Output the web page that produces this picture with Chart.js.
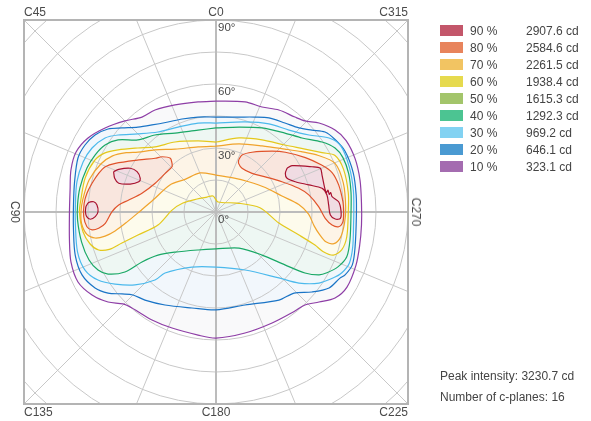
<!DOCTYPE html>
<html>
<head>
<meta charset="utf-8">
<script src="https://cdn.jsdelivr.net/npm/chart.js@4.4.1/dist/chart.umd.min.js"></script>
<style>
  body { margin: 0; background: #fff; font-family: "Liberation Sans", Arial, sans-serif; color: #444; }
  #wrap { position: relative; width: 591px; height: 421px; overflow: hidden; }
  #wrap canvas { position: absolute; left: 0; top: 0; }
  .lbl { position: absolute; font-size: 12px; line-height: 12px; color: #4a4a4a; white-space: nowrap; }
  .deg { position: absolute; font-size: 11.5px; line-height: 12px; color: #4a4a4a; left: 218px; white-space: nowrap; }
  #legend { position: absolute; left: 440px; top: 22px; width: 150px; font-size: 12px; color: #444; }
  #legend .row { position: relative; height: 17px; }
  #legend .sw { position: absolute; left: 0; top: 3px; width: 23px; height: 11px; }
  #legend .pc { position: absolute; left: 30px; top: 2px; line-height: 14px; white-space: nowrap; }
  #legend .cd { position: absolute; left: 86px; top: 2px; line-height: 14px; white-space: nowrap; }
  .info { position: absolute; left: 440px; font-size: 12px; color: #444; line-height: 14px; white-space: nowrap; }
</style>
</head>
<body>
<div id="wrap">
  <canvas id="isoChart" width="591" height="421"></canvas>
  <div class="lbl" style="left:216px;top:6px;transform:translateX(-50%)">C0</div>
  <div class="lbl" style="left:24px;top:6px">C45</div>
  <div class="lbl" style="right:183px;top:6px">C315</div>
  <div class="lbl" style="left:24px;top:406px">C135</div>
  <div class="lbl" style="left:216px;top:406px;transform:translateX(-50%)">C180</div>
  <div class="lbl" style="right:183px;top:406px">C225</div>
  <div class="lbl" style="left:15px;top:212px;transform:translate(-50%,-50%) rotate(90deg)">C90</div>
  <div class="lbl" style="left:416px;top:212px;transform:translate(-50%,-50%) rotate(90deg)">C270</div>
  <div class="deg" style="top:21px">90°</div>
  <div class="deg" style="top:85px">60°</div>
  <div class="deg" style="top:149px">30°</div>
  <div class="deg" style="top:213px">0°</div>
  <div id="legend"></div>
  <div class="info" style="top:369px">Peak intensity: 3230.7 cd</div>
  <div class="info" style="top:390px">Number of c-planes: 16</div>
</div>
<script>
// isocandela levels
var levelPercents = [90, 80, 70, 60, 50, 40, 30, 20, 10];
var levelCandela = [2907.6, 2584.6, 2261.5, 1938.4, 1615.3, 1292.3, 969.2, 646.1, 323.1];
var legendColors = ['#c3566a', '#e8845c', '#f2c462', '#e6da4e', '#a3c56b', '#4cc492', '#82d2f2', '#4a9ad2', '#a46cb0'];

// grid: gamma rings (deg) and c-plane directions (deg)
var gammaRings = [15, 30, 45, 60, 75, 90, 105, 120];
var cPlaneAngles = [0, 22.5, 45, 67.5, 90, 112.5, 135, 157.5, 180, 202.5, 225, 247.5, 270, 292.5, 315, 337.5];

// contour points, [x, y] in degrees from nadir
var contour10 = [[0,52],[13.6,51.6],[21.6,49.2],[29.5,47.8],[37,44.5],[41.7,42.7],[48.3,41.7],[55.8,38.4],[61,33.5],[65.2,25],[67.5,15],[68.2,4],[68.2,-6.1],[67.3,-16],[65.6,-25],[61.4,-35.2],[55.8,-40.3],[48.3,-42.2],[41.7,-43.6],[37,-46.4],[26.3,-52],[13.6,-56.7],[0,-59.1],[-8.4,-57.7],[-20.6,-54.4],[-30,-50.6],[-39.4,-45],[-43.6,-43.1],[-50.6,-42.2],[-58.1,-38.9],[-64.7,-32.8],[-68,-23.4],[-68.7,-13.1],[-68.7,-0.5],[-68.4,10.3],[-68,19.7],[-65.6,28.1],[-60,34.7],[-52,39.4],[-42.7,42.7],[-34.7,44.5],[-28.6,47.8],[-19.2,50.2],[-8.4,51.6],[0,52]];
var contour20 = [[0,44.5],[10.8,44.5],[18.3,44.5],[24.8,44.1],[32.3,41.7],[38.9,39.4],[45,38.4],[51.1,37.5],[55.8,34],[60.5,28.5],[64.3,18.5],[65.7,8],[65.8,-2],[65.2,-16.3],[63.9,-24.8],[60.5,-29.5],[58.1,-31],[53,-35.6],[45,-37.5],[36.6,-38],[29.5,-41.3],[13.6,-43.6],[0,-45.9],[-11.3,-45],[-23.9,-43.6],[-33.3,-41.3],[-38.9,-38.9],[-44.1,-38.4],[-50.6,-38],[-56.7,-35.6],[-62.8,-29.5],[-66,-20.2],[-66.8,-8.4],[-66.8,3.3],[-66.3,14.1],[-64.7,25.3],[-61.4,31.4],[-56.7,36.1],[-50.6,38.9],[-44.1,39.4],[-36.6,39.8],[-30,40.8],[-22.5,42.2],[-15.9,43.6],[-8.4,44.5],[0,44.5]];
var contour30 = [[0,41.7],[13.6,42.2],[24.8,41.3],[34.2,38.4],[43.6,36.1],[53,34.7],[58.5,31],[62.5,21],[64.4,10],[64.6,0],[64.5,-5],[64.1,-16.3],[62.5,-24],[59,-28.5],[55.8,-30.5],[48.3,-33.3],[38.9,-33.3],[29.5,-30.9],[13.6,-27.2],[0,-25.8],[-11.3,-25.8],[-23.9,-28.6],[-28.6,-31.9],[-38,-34.2],[-47.3,-33.8],[-55.3,-31.9],[-61.4,-27.2],[-64.9,-18.8],[-65.9,-6.1],[-65.9,3.3],[-65.2,14.1],[-62.3,23.4],[-58.1,30],[-52,34.7],[-45.9,36.1],[-36.6,36.6],[-27.2,37.5],[-17.8,39.8],[-8.4,41.7],[0,41.7]];
var contour40 = [[0,39.4],[10.8,39.8],[21.6,39.4],[32.3,37],[40.3,34.7],[49.7,32.8],[55.8,30],[59.5,25.5],[62.2,18],[63.3,9],[63.3,0],[62.8,-13],[61.3,-21],[57.3,-25.6],[52,-28.5],[48.3,-29.5],[41.7,-28.6],[32.3,-24.8],[21.6,-20.2],[10.8,-16.9],[0,-17.3],[-8.4,-17.8],[-19.2,-18.8],[-27.2,-20.2],[-34.7,-23.4],[-42.7,-28.1],[-50.6,-29.1],[-55.3,-27.2],[-59.5,-22.5],[-63,-14.1],[-64.9,-3.8],[-64.9,3.3],[-63.8,11.3],[-60.5,20.6],[-56.7,26.7],[-52,31.4],[-45.9,33.8],[-36.6,33.8],[-28.6,36.1],[-19.2,37],[-8.4,38.4],[0,39.4]];
var contour60 = [[0,32.8],[10.8,34.7],[21.6,33.8],[32.3,31.4],[41.7,29.5],[49.7,27.8],[55.8,26.5],[59.8,20],[62,9],[62,0],[61.3,-11.6],[58.9,-17.8],[55,-20.2],[50.3,-18.6],[46.4,-15.5],[38.9,-10.8],[29.5,-5.2],[20.6,2],[9.8,4.2],[1,4.7],[-1.4,7.5],[-4.2,7],[-8.9,6.1],[-15.5,4.2],[-20.6,0.9],[-27.2,-6.1],[-36.6,-10.8],[-44.1,-14.5],[-50,-17.5],[-55,-17.8],[-59,-15],[-62.3,-9.4],[-64,0],[-63.3,6],[-61.3,16],[-56.7,24.4],[-52,27.7],[-45.9,29.1],[-36.6,30],[-28.6,30.5],[-19.2,32.8],[-8.4,33.3],[0,32.8]];
var contour70 = [[0,30.9],[10.8,31.9],[21.6,31],[32.3,29.5],[40,28.3],[48,26.5],[55.8,22.8],[59.7,13.5],[60.8,2],[60.2,-5.5],[58.3,-12],[55.3,-14.8],[51.5,-14],[48.5,-10.5],[46,-6.5],[43.4,-1],[38.8,3.5],[30.9,7.5],[23.1,11.5],[15.3,14.2],[8,16],[0,17.3],[-7.5,18.3],[-14.5,15.3],[-21.6,12.7],[-29.5,5.6],[-35.5,0.5],[-41.5,-4.5],[-47.3,-8.9],[-52,-11.3],[-56.7,-12.2],[-60.5,-10.5],[-63,-5.5],[-63.3,0],[-62.5,5.6],[-59.5,15],[-54,22.5],[-48.5,26.3],[-42,27.8],[-36.6,28.1],[-28.6,29.1],[-19.2,29.5],[-8.4,30.5],[0,30.9]];
var contour80a = [[-20.6,22.8],[-21.4,25.2],[-25.3,25.9],[-28.5,25.2],[-36.2,24.4],[-47.2,22.8],[-51.9,21.2],[-55,18.1],[-58.1,13.5],[-60.5,8.8],[-61.8,4.1],[-62,-2.2],[-60.5,-6.9],[-58.1,-8.4],[-55,-7.6],[-51.9,-5.3],[-48.8,0.1],[-45.6,3.3],[-40.9,5.6],[-34.7,8.8],[-28.5,13.5],[-23.8,18.1],[-20.6,21.2],[-20.6,22.8]];
var contour80b = [[10.6,24.4],[12.2,26.7],[16.9,28],[26.3,28.5],[32.5,28],[41.9,25.5],[49.5,22],[54.4,18.5],[57.5,12.7],[59.5,4.8],[59.8,0],[59.5,-4.5],[57.5,-6.9],[54.4,-6.1],[51.2,-3],[48.1,2.5],[43.5,8],[38.8,11.1],[30.9,14.2],[23.1,16.5],[16.9,18.1],[12.2,20.5],[10.6,22.8],[10.6,24.4]];
var contour90a = [[-48,18.9],[-45.6,20],[-40.2,20.5],[-37,18.9],[-35.5,15.8],[-36.2,14.2],[-40.2,13.1],[-45.6,13.5],[-47.5,15.8],[-48,18.9]];
var contour90b = [[-61,2.5],[-59.7,4.4],[-57.3,4.8],[-55.8,3.3],[-55.3,0.1],[-56.6,-2.2],[-58.9,-3.4],[-60.6,-2.2],[-61.2,0.1],[-61,2.5]];
var contour90c = [[33.3,20.5],[35.6,21.7],[45,21.2],[48.9,20.5],[49.7,17.3],[51,11.1],[51.8,9.2],[52.5,10.2],[53.1,8.3],[53.8,9.1],[54.4,7.2],[57.5,4.8],[58.6,0.5],[58.3,-3],[55.9,-3.3],[53.6,-1.4],[52.8,3.3],[52,8],[49.7,11.1],[43.5,12.7],[37.2,14.2],[33.3,15.8],[32.5,18.1],[33.3,20.5]];

var contourSeries = [
  [10, contour10], [20, contour20], [30, contour30], [40, contour40],
  [60, contour60], [70, contour70], [80, contour80a], [80, contour80b],
  [90, contour90a], [90, contour90b], [90, contour90c]
];

// styles per level
var lineColors = {10: '#8e3ea6', 20: '#1a74c6', 30: '#4cb9ec', 40: '#1aa866', 60: '#e4c81c', 70: '#f0a32c', 80: '#e0532b', 90: '#a8122f'};
var fillColors = {10: '#f9f9fa', 20: '#f2f7fc', 30: '#f0f7fb', 40: '#eef7f3', 60: '#fdfbec', 70: '#fdf4e7', 80: '#f9e6de', 90: '#f0dce3'};

// legend
var legendHtml = '';
levelPercents.forEach(function(p, i) {
  legendHtml += '<div class="row"><div class="sw" style="background:' + legendColors[i] + '"></div>' +
    '<span class="pc">' + p + ' %</span><span class="cd">' + levelCandela[i].toFixed(1) + ' cd</span></div>';
});
document.getElementById('legend').innerHTML = legendHtml;

var polarGrid = {
  id: 'polarGrid',
  beforeDatasetsDraw: function(chart) {
    var ctx = chart.ctx, a = chart.chartArea;
    var xs = chart.scales.x, ys = chart.scales.y;
    var cx = xs.getPixelForValue(0), cy = ys.getPixelForValue(0);
    var unit = xs.getPixelForValue(1) - cx;
    ctx.save();
    ctx.beginPath();
    ctx.rect(a.left, a.top, a.right - a.left, a.bottom - a.top);
    ctx.clip();
    ctx.strokeStyle = '#c8c8c8';
    ctx.lineWidth = 1;
    gammaRings.forEach(function(g) {
      ctx.beginPath();
      ctx.arc(cx, cy, g * unit, 0, Math.PI * 2);
      ctx.stroke();
    });
    cPlaneAngles.forEach(function(c) {
      if (c % 90 === 0) return;
      var t = c * Math.PI / 180, r = 200 * unit;
      ctx.beginPath();
      ctx.moveTo(cx, cy);
      ctx.lineTo(cx - Math.sin(t) * r, cy - Math.cos(t) * r);
      ctx.stroke();
    });
    ctx.strokeStyle = '#bcbcbc';
    ctx.lineWidth = 2;
    ctx.beginPath();
    ctx.moveTo(cx, a.top); ctx.lineTo(cx, a.bottom);
    ctx.moveTo(a.left, cy); ctx.lineTo(a.right, cy);
    ctx.stroke();
    ctx.restore();
    ctx.save();
    ctx.strokeStyle = '#b4b4b4';
    ctx.lineWidth = 2;
    ctx.strokeRect(a.left, a.top, a.right - a.left, a.bottom - a.top);
    ctx.restore();
  }
};

var datasets = contourSeries.map(function(s) {
  var level = s[0];
  return {
    data: s[1].map(function(p) { return {x: p[0], y: p[1]}; }),
    showLine: true,
    borderColor: lineColors[level],
    backgroundColor: fillColors[level],
    borderWidth: 1.2,
    pointRadius: 0,
    tension: 0.3,
    fill: 'shape',
    order: 100 - level
  };
});

new Chart(document.getElementById('isoChart'), {
  type: 'scatter',
  data: { datasets: datasets },
  options: {
    responsive: false,
    animation: false,
    layout: { padding: { left: 24, right: 183, top: 20, bottom: 17 } },
    scales: {
      x: { type: 'linear', min: -90, max: 90, display: false },
      y: { type: 'linear', min: -90, max: 90, display: false }
    },
    plugins: {
      legend: { display: false },
      tooltip: { enabled: false },
      filler: { drawTime: 'beforeDatasetsDraw' }
    }
  },
  plugins: [polarGrid]
});
</script>
</body>
</html>
